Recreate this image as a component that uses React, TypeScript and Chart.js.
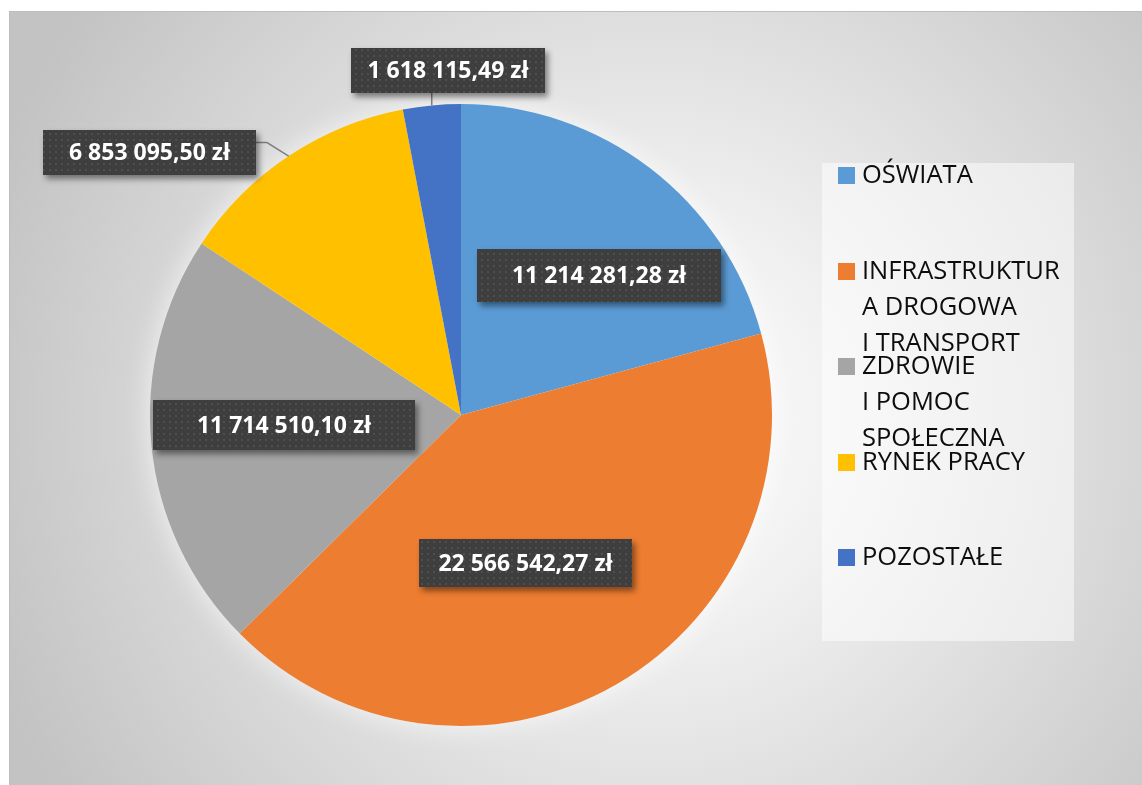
import React, { useEffect, useRef } from "react";
import { Chart, registerables } from "chart.js";

Chart.register(...registerables);

// ---- data ----
const categories = [
  "OŚWIATA",
  "INFRASTRUKTURA DROGOWA I\u00a0TRANSPORT",
  "ZDROWIE I\u00a0POMOC SPOŁECZNA",
  "RYNEK PRACY",
  "POZOSTAŁE",
];
const values = [11214281.28, 22566542.27, 11714510.1, 6853095.5, 1618115.49];
const colors = ["#5B9BD5", "#ED7D31", "#A5A5A5", "#FFC000", "#4472C4"];

// ---- label placement (style, relative to each slice) ----
const labelRadius = [0.63, 0.52, 0.57, 1.31, 1.11];
const labelAngleShift = [7.4, 6.4, 2.4, -16.3, 3.3];
const labelBoxW = [244, 213, 262, 213, 194];
const labelBoxH = [53, 48, 50, 45, 45];

function formatPLN(v: number): string {
  const [i, d] = v.toFixed(2).split(".");
  const grouped = i.replace(/\B(?=(\d{3})+(?!\d))/g, " ");
  return grouped + "," + d + " zł";
}

function wrapText(ctx: CanvasRenderingContext2D, text: string, maxW: number): string[] {
  const words = text.split(" ");
  const lines: string[] = [];
  let cur = "";
  const pushWord = (w: string) => {
    const trial = cur ? cur + " " + w : w;
    if (ctx.measureText(trial).width <= maxW) {
      cur = trial;
      return;
    }
    if (cur) {
      lines.push(cur);
      cur = "";
    }
    let rest = w;
    while (ctx.measureText(rest).width > maxW) {
      let k = rest.length;
      while (k > 1 && ctx.measureText(rest.slice(0, k)).width > maxW) k--;
      lines.push(rest.slice(0, k));
      rest = rest.slice(k);
    }
    cur = rest;
  };
  words.forEach(pushWord);
  if (cur) lines.push(cur);
  return lines.map((l) => l.replace(/\u00a0/g, " "));
}

function makePattern(ctx: CanvasRenderingContext2D): CanvasPattern | string {
  const c = document.createElement("canvas");
  c.width = 6;
  c.height = 6;
  const p = c.getContext("2d");
  if (!p) return "#404040";
  p.fillStyle = "#3e3e3e";
  p.fillRect(0, 0, 6, 6);
  p.fillStyle = "#4f4f4f";
  p.fillRect(1, 1, 2, 2);
  p.fillStyle = "#454545";
  p.fillRect(4, 4, 1, 1);
  return ctx.createPattern(c, "repeat") || "#404040";
}

const backgroundPlugin = {
  id: "bgFrame",
  beforeDraw(chart: any) {
    const ctx: CanvasRenderingContext2D = chart.ctx;
    const W = chart.width;
    const H = chart.height;
    ctx.save();
    ctx.fillStyle = "#ffffff";
    ctx.fillRect(0, 0, W, H);
    const g = ctx.createRadialGradient(650, 420, 0, 650, 420, 700);
    g.addColorStop(0, "#ffffff");
    g.addColorStop(0.3, "#f0f0f0");
    g.addColorStop(1, "#c3c3c3");
    ctx.fillStyle = g;
    ctx.fillRect(9, 11, W, H);
    ctx.strokeStyle = "#bdbdbd";
    ctx.lineWidth = 1;
    ctx.strokeRect(9.5, 11.5, W + 10, H + 10);
    ctx.restore();
  },
  beforeDatasetsDraw(chart: any) {
    const meta = chart.getDatasetMeta(0);
    const arc = meta.data[0];
    if (!arc) return;
    const ctx: CanvasRenderingContext2D = chart.ctx;
    ctx.save();
    ctx.shadowColor = "rgba(255,255,255,0.8)";
    ctx.shadowBlur = 30;
    ctx.fillStyle = "#ffffff";
    ctx.beginPath();
    ctx.arc(arc.x, arc.y, arc.outerRadius - 2, 0, Math.PI * 2);
    ctx.fill();
    ctx.restore();
  },
};

const labelsPlugin = {
  id: "boxLabels",
  afterDatasetsDraw(chart: any) {
    const ctx: CanvasRenderingContext2D = chart.ctx;
    const meta = chart.getDatasetMeta(0);
    const pattern = makePattern(ctx);
    const data: number[] = chart.data.datasets[0].data;
    meta.data.forEach((arc: any, i: number) => {
      const mid0 = (arc.startAngle + arc.endAngle) / 2;
      const mid = mid0 + (labelAngleShift[i] * Math.PI) / 180;
      const R = arc.outerRadius;
      const cx = arc.x + Math.cos(mid) * R * labelRadius[i];
      const cy = arc.y + Math.sin(mid) * R * labelRadius[i];
      const w = labelBoxW[i];
      const h = labelBoxH[i];
      const left = Math.round(cx - w / 2);
      const top = Math.round(cy - h / 2);
      if (labelRadius[i] > 1) {
        const ex = arc.x + Math.cos(mid0) * R;
        const ey = arc.y + Math.sin(mid0) * R;
        ctx.save();
        ctx.strokeStyle = "#7f7f7f";
        ctx.lineWidth = 1.5;
        ctx.beginPath();
        if (ex >= left && ex <= left + w) {
          ctx.moveTo(ex, top + h);
          ctx.lineTo(ex, ey);
        } else if (ex > left + w) {
          const ay = top + h * 0.28;
          ctx.moveTo(left + w, ay);
          ctx.lineTo(left + w + 11, ay);
          ctx.lineTo(ex, ey);
        } else {
          const ay = top + h * 0.28;
          ctx.moveTo(left, ay);
          ctx.lineTo(left - 11, ay);
          ctx.lineTo(ex, ey);
        }
        ctx.stroke();
        ctx.restore();
      }
      ctx.save();
      ctx.shadowColor = "rgba(0,0,0,0.45)";
      ctx.shadowBlur = 6;
      ctx.shadowOffsetX = 3;
      ctx.shadowOffsetY = 4;
      ctx.fillStyle = "#3e3e3e";
      ctx.fillRect(left, top, w, h);
      ctx.restore();
      ctx.save();
      ctx.fillStyle = pattern as any;
      ctx.fillRect(left, top, w, h);
      ctx.fillStyle = "#ffffff";
      ctx.font = "bold 23px 'Open Sans'";
      ctx.textAlign = "center";
      ctx.textBaseline = "middle";
      ctx.fillText(formatPLN(data[i]), left + w / 2, top + h / 2 + 1);
      ctx.restore();
    });
  },
};

const legendPlugin = {
  id: "customLegend",
  afterDraw(chart: any) {
    const ctx: CanvasRenderingContext2D = chart.ctx;
    const boxX = 822;
    const boxY = 163;
    const boxW = 252;
    const boxH = 478;
    ctx.save();
    ctx.fillStyle = "rgba(255,255,255,0.5)";
    ctx.fillRect(boxX, boxY, boxW, boxH);
    ctx.font = "25.5px 'Open Sans'";
    ctx.textAlign = "left";
    ctx.textBaseline = "alphabetic";
    const labels: string[] = chart.data.labels;
    const bg: string[] = chart.data.datasets[0].backgroundColor;
    const firstBase = 183;
    const step = 95.5;
    const lineH = 36;
    labels.forEach((lab, i) => {
      const base = firstBase + i * step;
      ctx.fillStyle = bg[i];
      ctx.fillRect(838, Math.round(base - 16), 17, 17);
      ctx.fillStyle = "#0d0d0d";
      const lines = wrapText(ctx, lab, 206);
      lines.forEach((ln, k) => {
        ctx.fillText(ln, 862, base + k * lineH);
      });
    });
    ctx.restore();
  },
};

export default function App() {
  const ref = useRef<HTMLCanvasElement | null>(null);
  useEffect(() => {
    if (!ref.current) return;
    const chart = new Chart(ref.current, {
      type: "pie",
      data: {
        labels: categories,
        datasets: [
          {
            data: values,
            backgroundColor: colors,
            borderWidth: 0,
          },
        ],
      },
      options: {
        responsive: false,
        animation: false,
        devicePixelRatio: 1,
        layout: { padding: { left: 150, right: 370, top: 104, bottom: 59 } },
        plugins: {
          legend: { display: false },
          tooltip: { enabled: false },
        },
      },
      plugins: [backgroundPlugin, labelsPlugin, legendPlugin],
    } as any);
    return () => chart.destroy();
  }, []);
  return (
    <div style={{ position: "absolute", left: 0, top: 0, width: 1142, height: 785 }}>
      <canvas ref={ref} width={1142} height={785} style={{ display: "block" }} />
    </div>
  );
}
